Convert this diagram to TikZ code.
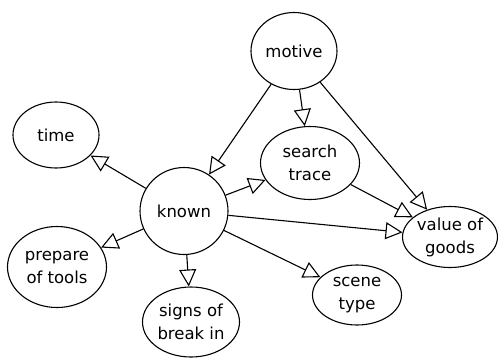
\documentclass[tikz,border=0pt]{standalone}
\usepackage{fontspec}
\setmainfont{DejaVu Sans}
\usetikzlibrary{shapes.geometric,arrows.meta}
\begin{document}
\begin{tikzpicture}[x=1pt,y=-1pt,
  nd/.style={draw,ellipse,line width=1.1pt,inner sep=0pt,align=center,
    font=\fontsize{16.5}{23}\selectfont},
  edge/.style={draw,line width=1.1pt,-{Triangle[open,length=17pt,width=17pt,line width=1.1pt]}}]
\useasboundingbox (0,0) rectangle (498,357);
\node[nd,minimum width=86pt,minimum height=77pt] (motive) at (294,51) {motive};
\node[nd,minimum width=86pt,minimum height=66pt] (time) at (56,135) {time};
\node[nd,minimum width=88pt,minimum height=87pt] (known) at (184,211) {known};
\node[nd,minimum width=99pt,minimum height=73pt] (search) at (310,163) {search\\trace};
\node[nd,minimum width=95pt,minimum height=61pt] (value) at (450,237) {value of\\goods};
\node[nd,minimum width=99pt,minimum height=81pt] (prepare) at (57,267) {prepare\\of tools};
\node[nd,minimum width=97pt,minimum height=70pt] (signs) at (191,322) {signs of\\break in};
\node[nd,minimum width=89pt,minimum height=60pt] (scene) at (357,295) {scene\\type};
\draw[edge] (motive) -- (known);
\draw[edge] (motive) -- (search);
\draw[edge] (motive) -- (value);
\draw[edge] (known) -- (time);
\draw[edge] (known) -- (search);
\draw[edge] (known) -- (value);
\draw[edge] (known) -- (prepare);
\draw[edge] (known) -- (signs);
\draw[edge] (known) -- (scene);
\draw[edge] (search) -- (value);
\end{tikzpicture}
\end{document}
